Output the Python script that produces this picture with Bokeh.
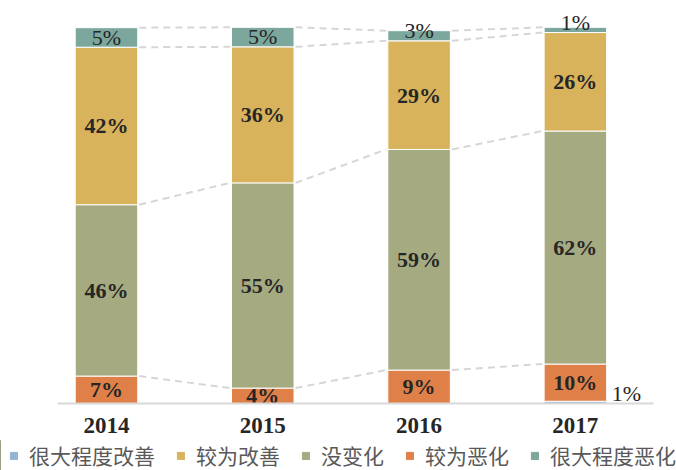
from bokeh.plotting import figure
from bokeh.layouts import column
from bokeh.models import ColumnDataSource, Range1d, Legend, LegendItem, FixedTicker
from bokeh.core.properties import value
from bokeh.embed import file_html
from bokeh.resources import INLINE

years = ["2014", "2015", "2016", "2017"]
much_better = [0, 0, 0, 0.6]
better = [41.9, 36.2, 28.9, 26.2]
no_change = [45.6, 54.6, 58.7, 62.0]
worse = [7.3, 4.1, 8.9, 9.9]
much_worse = [5.2, 5.2, 2.7, 1.4]

names = {"much_better": "很大程度改善", "better": "较为改善", "no_change": "没变化",
         "worse": "较为恶化", "much_worse": "很大程度恶化"}
colors = {"much_better": "#94B4D0", "better": "#D9B25C", "no_change": "#A5AA80",
          "worse": "#DF8048", "much_worse": "#7BA79C"}
data = {"much_better": much_better, "better": better, "no_change": no_change,
        "worse": worse, "much_worse": much_worse}
stack_order = ["much_better", "worse", "no_change", "better", "much_worse"]
legend_order = ["much_better", "better", "no_change", "worse", "much_worse"]

xs = list(range(len(years)))
W = 0.4
SERIF = "Liberation Serif"
TXT = "#262626"

p = figure(width=676, height=440, output_backend="svg", toolbar_location=None,
           x_range=Range1d(-0.678, 3.647), y_range=Range1d(0, 105.9),
           min_border_left=0, min_border_right=0, min_border_top=5,
           min_border_bottom=37)
p.outline_line_color = None
p.xgrid.visible = False
p.ygrid.visible = False
p.yaxis.visible = False
p.background_fill_color = "white"

bottoms = {}
tops = {}
cum = [0.0] * len(years)
for key in stack_order:
    vals = data[key]
    b = list(cum)
    t = [c + v for c, v in zip(cum, vals)]
    bottoms[key], tops[key] = b, t
    cum = t
    src = ColumnDataSource(dict(x=xs, bottom=b, top=t))
    p.vbar(x="x", width=W, bottom="bottom", top="top", source=src,
           fill_color=colors[key], line_color="white", line_width=1)

# dashed connectors between consecutive bars at segment tops
for key in ["worse", "no_change", "better", "much_worse"]:
    t = tops[key]
    p.segment(x0=[i + W / 2 + 0.01 for i in xs[:-1]], y0=t[:-1],
              x1=[i + 1 - W / 2 - 0.01 for i in xs[:-1]], y1=t[1:],
              line_color="#D6D6D6", line_width=2, line_dash="7 5")

# labels inside segments
for key in ["worse", "no_change", "better"]:
    vals = data[key]
    ys = [(b + t) / 2 for b, t in zip(bottoms[key], tops[key])]
    src = ColumnDataSource(dict(x=xs, y=ys, txt=[f"{round(v)}%" for v in vals]))
    p.text(x="x", y="y", text="txt", source=src, text_align="center",
           text_baseline="middle", text_font=value(SERIF), text_font_size="22px",
           text_font_style="bold", text_color=TXT)

# top small segment labels
src = ColumnDataSource(dict(x=xs, y=bottoms["much_worse"],
                            txt=[f"{round(v)}%" for v in much_worse]))
p.text(x="x", y="y", text="txt", source=src, text_align="center",
       text_baseline="middle", y_offset=-10, text_font=value(SERIF),
       text_font_size="22px", text_color=TXT)

# bottom tiny segment labels (outside, to the right)
bx = [x + W / 2 for x, v in zip(xs, much_better) if v > 0]
bt = [f"{round(v)}%" for v in much_better if v > 0]
src = ColumnDataSource(dict(x=bx, y=[0] * len(bx), txt=bt))
p.text(x="x", y="y", text="txt", source=src, text_align="left",
       text_baseline="middle", x_offset=5, y_offset=-10, text_font=value(SERIF),
       text_font_size="22px", text_color=TXT)

ax = p.xaxis[0]
ax.ticker = FixedTicker(ticks=xs)
ax.bounds = (-0.313, 3.497)
ax.major_label_overrides = {x: y for x, y in zip(xs, years)}
ax.axis_line_color = "#D9D9D9"
ax.axis_line_width = 2
ax.major_tick_line_color = None
ax.minor_tick_line_color = None
ax.major_label_standoff = 8
ax.major_label_text_font = SERIF
ax.major_label_text_font_size = "23px"
ax.major_label_text_font_style = "bold"
ax.major_label_text_color = TXT

# legend strip
lg = figure(width=676, height=30, output_backend="svg", toolbar_location=None,
            x_range=Range1d(0, 1), y_range=Range1d(0, 1),
            min_border_left=0, min_border_right=0, min_border_top=0, min_border_bottom=0)
lg.outline_line_color = None
lg.axis.visible = False
lg.grid.visible = False
items = []
for k in legend_order:
    r = lg.vbar(x=[-10], top=[1], width=0.1, fill_color=colors[k], line_color=colors[k])
    items.append(LegendItem(label=names[k], renderers=[r]))
legend = Legend(items=items, orientation="horizontal", location=(9, 0),
                glyph_width=9, glyph_height=9, label_standoff=11, spacing=21,
                padding=0, margin=0, border_line_color=None, background_fill_alpha=0,
                label_text_font="Noto Sans CJK SC", label_text_font_size="21px",
                label_text_color="#595959")
lg.add_layout(legend)

layout = column(p, lg, spacing=0)
open("out.html", "w").write(file_html(layout, INLINE))
